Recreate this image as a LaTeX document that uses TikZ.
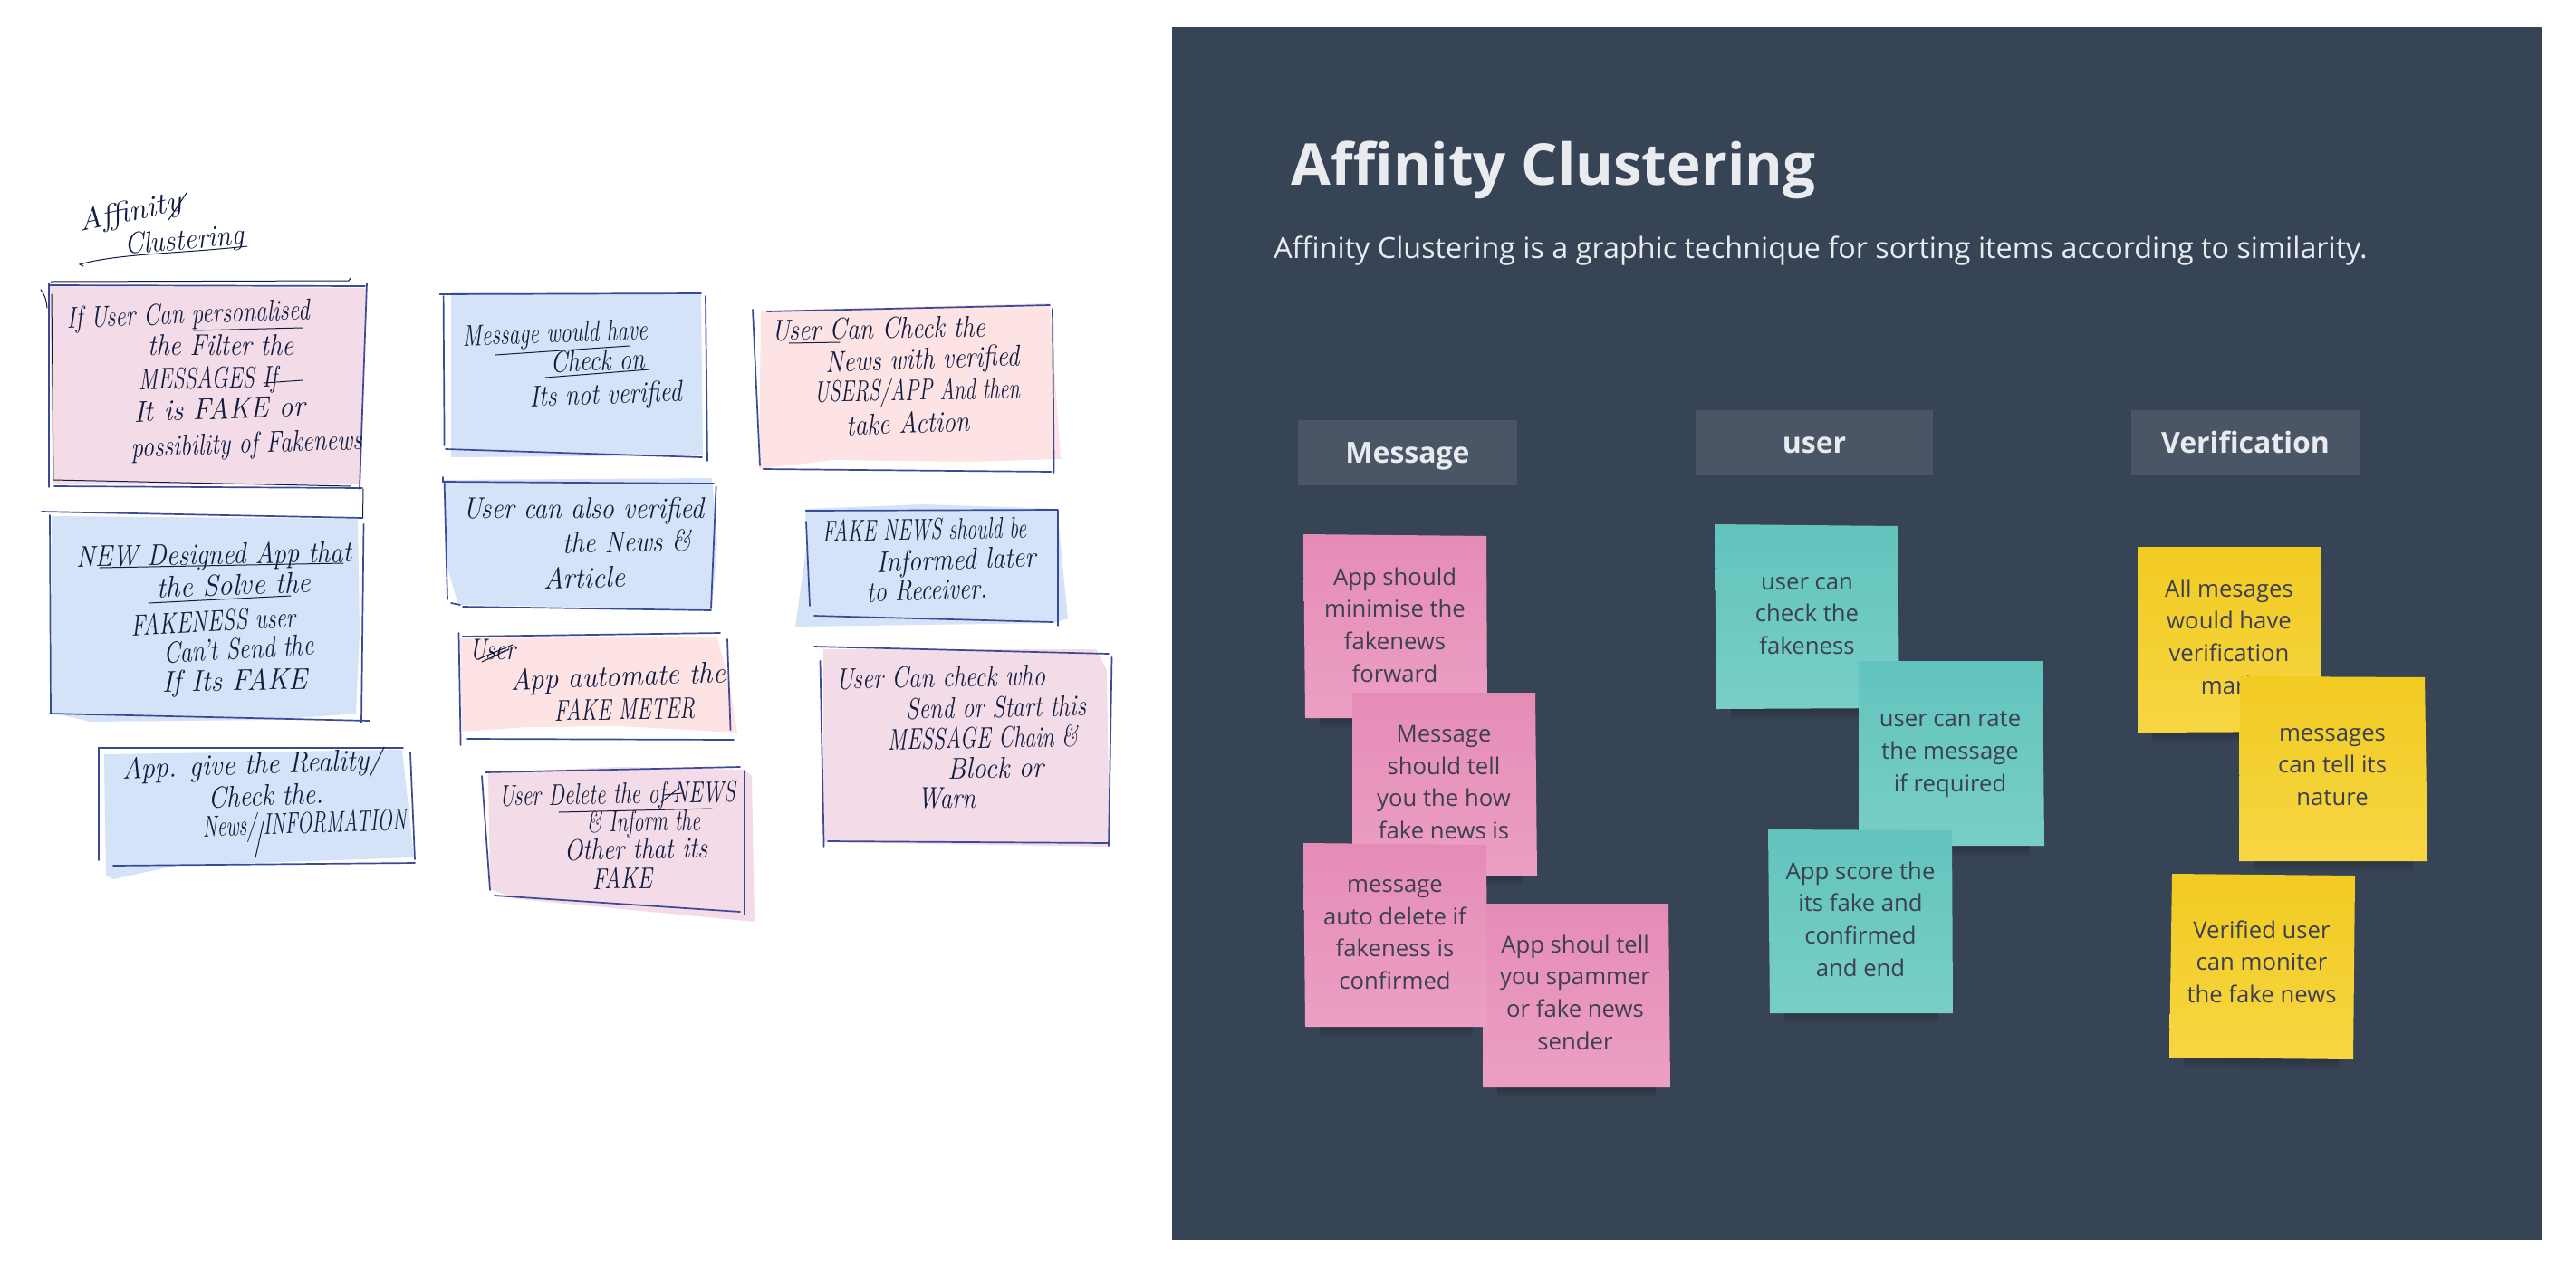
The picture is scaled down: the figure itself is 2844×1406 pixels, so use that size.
\documentclass[tikz,border=0pt]{standalone}
\usepackage{fontspec}
\usepackage{graphicx}
\usetikzlibrary{calc}
\newfontfamily\opensans{Open Sans}
\definecolor{panel}{HTML}{374455}
\definecolor{headfill}{HTML}{4A5565}
\definecolor{headtext}{HTML}{E9EBEE}
\definecolor{notetext}{HTML}{3C4050}
\definecolor{pinktop}{HTML}{E58CB6}
\definecolor{pinkbot}{HTML}{EC9FC3}
\definecolor{tealtop}{HTML}{62C4BD}
\definecolor{tealbot}{HTML}{78CEC7}
\definecolor{yeltop}{HTML}{F2CB22}
\definecolor{yelbot}{HTML}{F6D642}
\definecolor{sblue}{HTML}{D5E3F8}
\definecolor{spink}{HTML}{F4DBE8}
\definecolor{srose}{HTML}{FDE3E4}
\definecolor{penblue}{HTML}{3A4A96}
\definecolor{ink}{HTML}{101C40}
\tikzset{
  pinknote/.style={top color=pinktop,bottom color=pinkbot},
  tealnote/.style={top color=tealtop,bottom color=tealbot},
  yelnote/.style={top color=yeltop,bottom color=yelbot},
  notelabel/.style={font=\opensans\fontsize{25.7}{35.7}\selectfont,text=notetext,align=center,inner sep=0pt},
  headbox/.style={fill=headfill,draw=none},
  headlabel/.style={font=\opensans\bfseries\fontsize{32}{38}\selectfont,text=headtext,inner sep=0pt,anchor=base},
  boxpen/.style={draw=penblue,line width=1.7pt,line cap=round},
  thinpen/.style={draw=ink,line width=1pt,line cap=round},
  handlabel/.style={inner sep=0pt,anchor=base west,text=ink}
}
\newsavebox\hwbox
\newcounter{hwn}
\newcommand\hw[5]{%
  \stepcounter{hwn}%
  \node[handlabel,rotate=#4] (hw\arabic{hwn}) at (#1,#2) {%
    \sbox\hwbox{\itshape\fontsize{33}{33}\selectfont #5}%
    \pgfmathsetmacro\hwscale{#3/\the\wd\hwbox}%
    \scalebox{\hwscale}[1]{\usebox\hwbox}};%
}
\newcommand\sticky[5]{%
  \foreach \d in {2,5,8,11}
    \fill[black,opacity=.05] ($#5+(16,\d)$) -- ($#4+(-16,\d)$) -- ($#4+(-16,-25)$) -- ($#5+(16,-25)$) -- cycle;
  \shade[#1] #2 -- #3 -- #4 -- #5 -- cycle;%
}
\begin{document}
\begin{tikzpicture}[x=1pt,y=-1pt]
\useasboundingbox (0,0) rectangle (2844,1406);
\fill[white] (0,0) rectangle (2844,1406);
% ---------- sketch page ----------
\fill[spink] (55,316) -- (405,318) -- (398,535) -- (58,535) -- cycle;
\fill[sblue] (57,570) -- (395,573) -- (397,700) -- (393,788) -- (300,795) -- (100,797) -- (57,787) -- cycle;
\fill[sblue] (115,833) -- (444,828) -- (457,947) -- (194,956) -- (125,971) -- (117,967) -- cycle;
\fill[sblue] (498,323) -- (774,325) -- (776,503) -- (498,505) -- cycle;
\fill[sblue] (490,530) -- (786,528) -- (792,600) -- (786,673) -- (506,668) -- (492,620) -- cycle;
\fill[srose] (840,343) -- (1159,335) -- (1171,507) -- (1072,510) -- (919,508) -- (838,518) -- cycle;
\fill[sblue] (889,562) -- (1021,557) -- (1167,562) -- (1179,683) -- (1164,688) -- (878,692) -- (891,600) -- cycle;
\fill[srose] (508,705) -- (791,703) -- (804,747) -- (814,809) -- (684,802) -- (582,803) -- (510,808) -- cycle;
\fill[spink] (539,853) -- (684,847) -- (822,850) -- (830,857) -- (833,1018) -- (572,993) -- (541,982) -- cycle;
\fill[spink] (909,717) -- (1210,717) -- (1222,740) -- (1225,935) -- (909,930) -- cycle;
% box A
\draw[thinpen] (56,311) -- (385,310) -- (387,307);
\draw[boxpen] (55,315) -- (403,316);
\draw[boxpen,line width=1.2pt] (54,313) -- (54,538);
\draw[thinpen] (45,320) .. controls (49,325) and (51,330) .. (52,340);
\draw[thinpen] (57,325) -- (59,530) -- (387,537);
\draw[boxpen] (405,313) -- (397,540);
\draw[boxpen] (60,537) -- (400,539);
\draw[thinpen] (401,540) -- (400.5,572);
% box B
\draw[boxpen] (46,565) -- (400.5,572);
\draw[boxpen] (55,569) -- (56,787);
\draw[boxpen] (401.5,579) -- (399,798);
\draw[boxpen] (55,788) -- (408,796);
% box C
\draw[boxpen] (109,950) -- (109,826) -- (445,826);
\draw[boxpen] (453,831) -- (458,949);
\draw[boxpen] (125,956) -- (458,953);
% box D
\draw[boxpen] (485.5,325) -- (774,324);
\draw[boxpen] (489.6,327) -- (490.6,492);
\draw[boxpen] (779,327) -- (781,509);
\draw[boxpen] (492,496) -- (775,505);
% box E
\draw[boxpen] (489,527) -- (489,532) -- (788,534);
\draw[boxpen] (490.6,532) -- (494,662);
\draw[boxpen] (498,666) -- (508,668);
\draw[boxpen] (790.6,537) -- (785,672);
\draw[boxpen] (511,670) -- (785,674);
% box F
\draw[boxpen] (847,344) -- (1159,337);
\draw[boxpen] (831,342) -- (839,514);
\draw[boxpen] (1162,341) -- (1163.6,522);
\draw[boxpen] (842.6,518) -- (1160.5,521);
% box G
\draw[boxpen] (889.6,564) -- (1168,563);
\draw[boxpen] (890,576) -- (894,669);
\draw[boxpen] (1168,564) -- (1168,691);
\draw[boxpen] (899,680) -- (1162.6,687);
% box H
\draw[boxpen] (510.6,703) -- (795,699);
\draw[boxpen] (506.5,699) -- (508.6,823);
\draw[boxpen] (803,706) -- (806.5,806);
\draw[boxpen] (516,816) -- (810,817);
% box I
\draw[boxpen] (536,853) -- (817,847);
\draw[boxpen] (532,857) -- (541,983);
\draw[boxpen] (822,851) -- (822,1010);
\draw[boxpen] (546,989) -- (817,1007);
% box J
\draw[boxpen] (899,714) -- (1224,722);
\draw[boxpen] (905.5,730) -- (909.6,935);
\draw[boxpen] (1227.5,726) -- (1224,934);
\draw[boxpen] (914,929) -- (1224,931);
% handwriting
\hw{89}{256}{115}{12}{Affinity}
\hw{138}{281}{132}{5}{Clustering}
\draw[thinpen] (92,294) -- (88,292) .. controls (130,280) and (200,280) .. (273,272);
\draw[thinpen] (186,243) -- (206,213);
\hw{74}{362}{268}{2}{If User Can personalised}
\hw{163}{392}{161}{0}{the Filter the}
\hw{153}{430}{153}{1}{MESSAGES If}
\hw{148}{466}{189}{2}{It is FAKE or}
\hw{145}{505}{255}{2}{possibility of Fakenews}
\draw[thinpen] (214,365) -- (334,362);
\draw[thinpen] (291,423) -- (334,420);
\hw{84}{626}{304}{1}{NEW Designed App that}
\draw[thinpen] (110,627) -- (379,622);
\hw{173}{660}{171}{2}{the Solve the}
\draw[thinpen] (164,666) -- (321,658);
\hw{145}{702}{182}{3}{FAKENESS user}
\hw{181}{732}{166}{3}{Can't Send the}
\hw{179}{764}{160}{1}{If Its FAKE}
\hw{135}{860}{288}{2}{App. give the Reality/}
\hw{230}{892}{127}{2}{Check the.}
\hw{224}{924}{225}{2}{News/ INFORMATION}
\draw[thinpen] (291,907) -- (282,947);
\hw{511}{382}{204}{2}{Message would have}
\draw[thinpen] (547,392) -- (695,382);
\hw{608}{411}{104}{2}{Check on}
\draw[thinpen] (602,417) -- (717,408);
\hw{585}{449}{168}{2}{Its not verified}
\hw{511}{572}{266}{0}{User can also verified}
\hw{621}{611}{142}{1}{the News \&}
\hw{600}{650}{90}{1}{Article}
\hw{852}{376}{236}{1}{User Can Check the}
\draw[thinpen] (871,379) -- (927,378);
\hw{911.5}{411}{214}{2}{News with verified}
\hw{899}{444}{227}{1}{USERS/APP And then}
\hw{934.5}{481}{136}{2}{take Action}
\hw{908}{598}{225}{1}{FAKE NEWS should be}
\hw{967.6}{632}{176}{2}{Informed later}
\hw{957}{665}{133}{2}{to Receiver.}
\hw{518}{728}{51}{0}{User}
\draw[thinpen] (528,728) -- (566,712) (532,731) -- (562,717);
\hw{564}{762}{237}{2}{App automate the}
\hw{612}{796}{155}{1}{FAKE METER}
\hw{551}{890}{261}{1}{User Delete the of NEWS}
\draw[thinpen] (617,897) -- (786,893);
\draw[thinpen] (730,886) -- (750,870) (733,878) -- (753,876);
\hw{648}{919}{125}{1}{\& Inform the}
\hw{623}{950}{158}{1}{Other that its}
\hw{654}{982}{66}{1}{FAKE}
\hw{923}{761}{231}{1}{User Can check who}
\hw{1000}{794}{199}{1}{Send or Start this}
\hw{980}{828}{210}{1}{MESSAGE Chain \&}
\hw{1046}{860}{106}{1}{Block or}
\hw{1013}{892}{64}{0}{Warn}
% ---------- dark panel ----------
\fill[panel] (1294,30) rectangle (2806,1369);
\node[font=\opensans\bfseries\fontsize{63.6}{70}\selectfont,text=headtext,inner sep=0pt] (title) at (1715,188) {Affinity Clustering};
\node[font=\opensans\fontsize{32.3}{36}\selectfont,text=headtext,inner sep=0pt] (subtitle) at (2010,277) {Affinity Clustering is a graphic technique for sorting items according to similarity.};
\fill[headbox] (1433,464) rectangle (1675,536);
\node[headlabel] (hmessage) at (1554,511.6) {Message};
\fill[headbox] (1872,453) rectangle (2134,525);
\node[headlabel] (huser) at (2003,500) {user};
\fill[headbox] (2353,453) rectangle (2605,525);
\node[headlabel] (hverif) at (2479,500) {Verification};
% pink notes
\sticky{pinknote}{(1439,590)}{(1641,592)}{(1642,793)}{(1441,793)}
\node[notelabel] (s1) at (1540,690) {App should\\minimise the\\fakenews\\forward};
\sticky{pinknote}{(1493,765)}{(1695,765)}{(1697,967)}{(1493,967)}
\node[notelabel] (s2) at (1594,864) {Message\\should tell\\you the how\\fake news is};
\sticky{pinknote}{(1637,998)}{(1842,998)}{(1844,1201)}{(1637,1201)}
\sticky{pinknote}{(1439,931)}{(1641,933)}{(1642,1134)}{(1441,1134)}
\node[notelabel] (s3) at (1540,1032) {message\\auto delete if\\fakeness is\\confirmed};
\node[notelabel] (s4) at (1739,1096) {App shoul tell\\you spammer\\or fake news\\sender};
% teal notes
\sticky{tealnote}{(1893,579)}{(2095,581)}{(2097,782)}{(1895,783)}
\node[notelabel] (u1) at (1995,680) {user can\\check the\\fakeness};
\sticky{tealnote}{(2052,730)}{(2255,730)}{(2257,934)}{(2052,934)}
\node[notelabel] (u2) at (2153,833) {user can rate\\the message\\if required};
\sticky{tealnote}{(1952,916)}{(2155,917)}{(2156,1119)}{(1954,1119)}
\node[notelabel] (u3) at (2054,1015) {App score the\\its fake and\\confirmed\\and end};
% yellow notes
\sticky{yelnote}{(2360,604)}{(2562,604)}{(2563,808)}{(2360,809)}
\node[notelabel] (v1) at (2461,703) {All mesages\\would have\\verification\\mark};
\sticky{yelnote}{(2473,747)}{(2677,748)}{(2680,951)}{(2472,951)}
\node[notelabel] (v2) at (2575,847) {messages\\can tell its\\nature};
\sticky{yelnote}{(2398,965)}{(2600,967)}{(2598,1170)}{(2395,1168)}
\node[notelabel] (v3) at (2497,1062) {Verified user\\can moniter\\the fake news};
\end{tikzpicture}
\end{document}
